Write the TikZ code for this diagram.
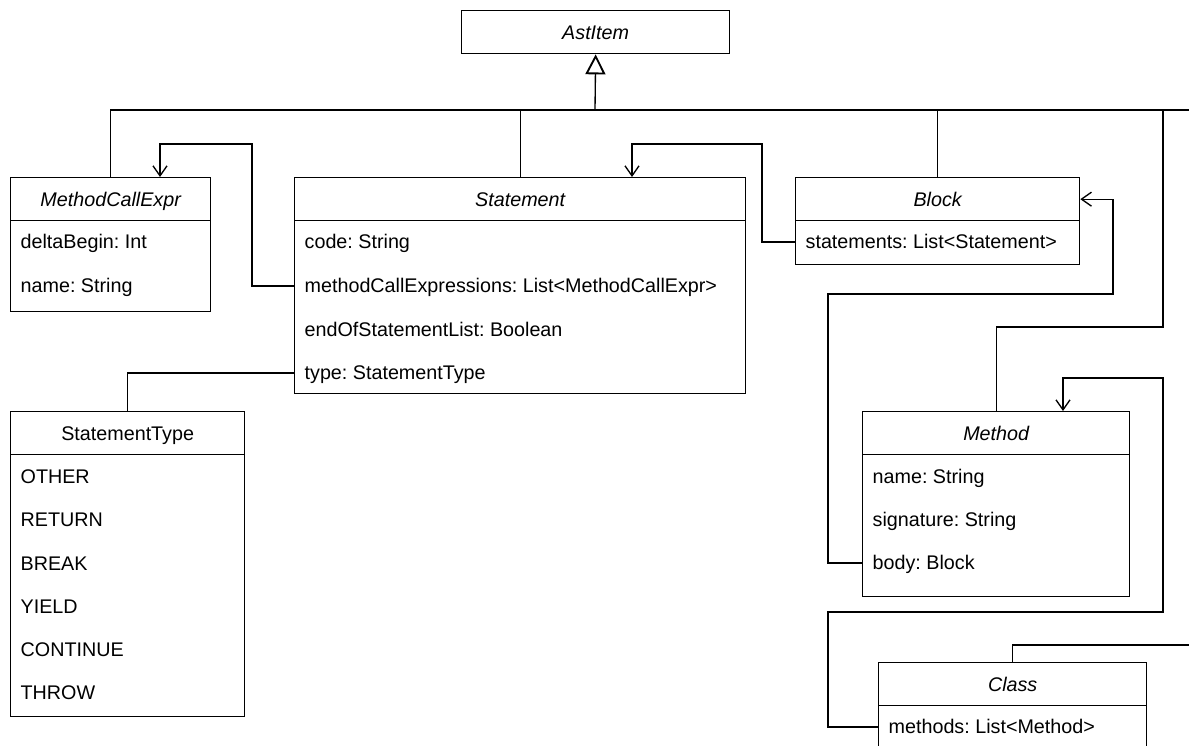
\documentclass[tikz,border=0pt]{standalone}
\usepackage{fontspec}
\setmainfont{Liberation Sans}
\usetikzlibrary{arrows.meta}
\frenchspacing
\begin{document}
\begin{tikzpicture}[x=0.75pt,y=-0.75pt,
  line width=1pt,
  font=\fontsize{14.8pt}{17pt}\selectfont\frenchspacing,
  sz/.style 2 args={minimum width=#1*0.75pt, minimum height=#2*0.75pt},
  part/.style={draw, anchor=north west, inner sep=0pt, text height=10.4pt, text depth=0pt},
  hdr/.style={part, font=\fontsize{14.8pt}{17pt}\selectfont\itshape},
  row/.style={anchor=west, inner sep=0pt, text height=10.4pt, text depth=0pt},
  assoc/.style={-{Straight Barb[length=7.5pt,width=10.5pt]}},
  inherit/.style={-{Triangle[open,length=15pt,width=15pt,fill=white,line width=1.4pt]}}
]
\useasboundingbox (0,0) rectangle (1189,746);
\clip (0,0) rectangle (1189,746);

% base class
\node[hdr, sz={268}{43}] (astitem) at (461,10) {AstItem};

% MethodCallExpr
\node[hdr, sz={200}{43}] (mcehead) at (10,177) {MethodCallExpr};
\node[part, sz={200}{91}] (mcebody) at (10,220) {};
\node[row] (mce1) at (20,242) {deltaBegin: Int};
\node[row] (mce2) at (20,286) {name: String};

% Statement
\node[hdr, sz={451}{43}] (stmthead) at (294,177) {Statement};
\node[part, sz={451}{173}] (stmtbody) at (294,220) {};
\node[row] (stmt1) at (304,242) {code: String};
\node[row] (stmt2) at (304,286) {methodCallExpressions: List<MethodCallExpr>};
\node[row] (stmt3) at (304,330) {endOfStatementList: Boolean};
\node[row] (stmt4) at (304,373) {type: StatementType};

% Block
\node[hdr, sz={284}{43}] (blockhead) at (795,177) {Block};
\node[part, sz={284}{44}] (blockbody) at (795,220) {};
\node[row] (block1) at (805,242) {statements: List<Statement>};

% Method
\node[hdr, sz={267}{43}] (methhead) at (862,411) {Method};
\node[part, sz={267}{142}] (methbody) at (862,454) {};
\node[row] (meth1) at (872,477) {name: String};
\node[row] (meth2) at (872,520) {signature: String};
\node[row] (meth3) at (872,563) {body: Block};

% Class
\node[hdr, sz={268}{43}] (classhead) at (878,662) {Class};
\node[part, sz={268}{60}] (classbody) at (878,705) {};
\node[row] (class1) at (888,727) {methods: List<Method>};

% StatementType enumeration
\node[part, sz={234}{43}] (stypehead) at (10,411) {StatementType};
\node[part, sz={234}{262}] (stypebody) at (10,454) {};
\node[row] (st1) at (20,477) {OTHER};
\node[row] (st2) at (20,520) {RETURN};
\node[row] (st3) at (20,564) {BREAK};
\node[row] (st4) at (20,607) {YIELD};
\node[row] (st5) at (20,650) {CONTINUE};
\node[row] (st6) at (20,693) {THROW};

% generalisation tree
\coordinate (hub) at (595,110);
\coordinate (busend) at (1189,110);
\coordinate (classend) at (1189,645);
\draw[inherit] (hub) -- (astitem.south);
\draw (mcehead.north) |- (busend);
\draw (stmthead.north) -- (stmthead.north |- hub);
\draw (blockhead.north) -- (blockhead.north |- hub);
\draw (methhead.north) -- (methhead.north |- 0,327) -- (1163,327) -- (1163,0 |- hub);
\draw (classhead.north) |- (classend);

% associations
\draw[assoc] (stmtbody.west |- stmt2) -- (252,0 |- stmt2) -- (252,144) -- (160,144) -- (160,0 |- mcehead.north);
\draw[assoc] (blockbody.west |- block1) -- (762,0 |- block1) -- (762,144) -- (632,144) -- (632,0 |- stmthead.north);
\draw[assoc] (methbody.west |- meth3) -- (828,0 |- meth3) -- (828,294) -- (1113,294) -- (1113,0 |- blockhead.east) -- (blockhead.east);
\draw[assoc] (classbody.west |- class1) -- (828,0 |- class1) -- (828,612) -- (1163,612) -- (1163,378) -- (1063,378) -- (1063,0 |- methhead.north);
\draw (stypehead.north) |- (stmtbody.west |- stmt4);
\end{tikzpicture}
\end{document}
